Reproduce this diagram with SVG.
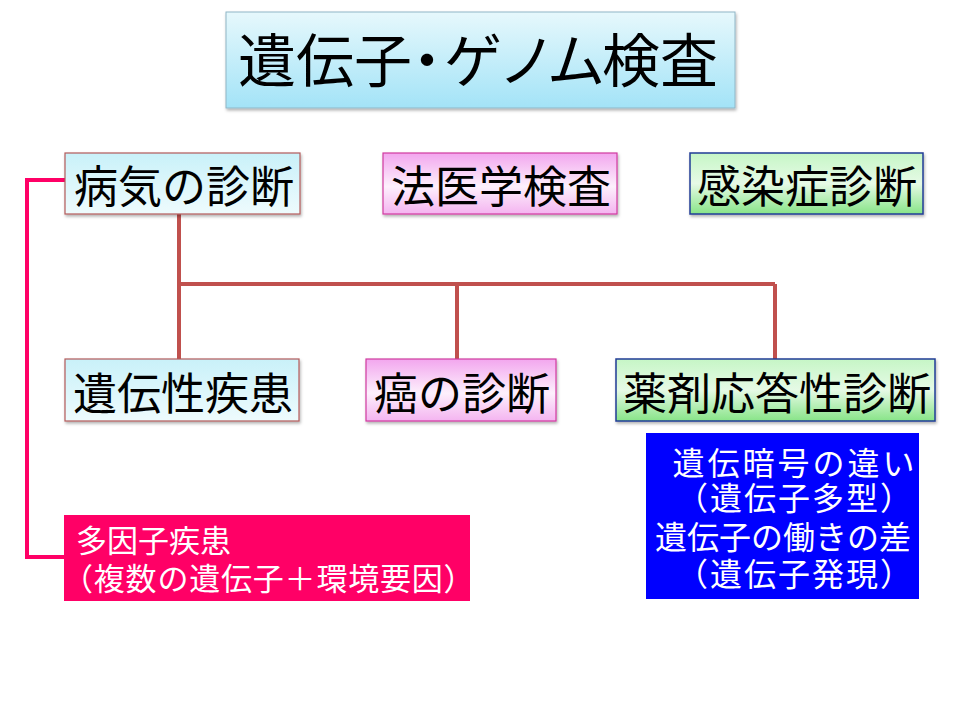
<svg xmlns="http://www.w3.org/2000/svg" width="960" height="720" viewBox="0 0 960 720">
<defs>
<linearGradient id="gTitle" x1="0" y1="0" x2="0" y2="1"><stop offset="0" stop-color="#e6f8fc"/><stop offset="1" stop-color="#a3e3f7"/></linearGradient>
<linearGradient id="gCyan" x1="0" y1="0" x2="0" y2="1"><stop offset="0" stop-color="#c9f1f9"/><stop offset="1" stop-color="#eefbfd"/></linearGradient>
<linearGradient id="gPink" x1="0" y1="0" x2="0" y2="1"><stop offset="0" stop-color="#f2a6ee"/><stop offset="0.55" stop-color="#fdf0fc"/><stop offset="1" stop-color="#f4b4f0"/></linearGradient>
<linearGradient id="gGreen" x1="0" y1="0" x2="0" y2="1"><stop offset="0" stop-color="#c6f6c6"/><stop offset="0.5" stop-color="#e6fae6"/><stop offset="1" stop-color="#88e488"/></linearGradient>
<filter id="sh" x="-10%" y="-10%" width="120%" height="130%"><feDropShadow dx="1" dy="2" stdDeviation="1.5" flood-color="#000" flood-opacity="0.3"/></filter>
</defs>
<style>
text{font-family:"Noto Sans CJK JP","Noto Sans",sans-serif;}
.lbl{font-size:44px;fill:#000;text-anchor:middle;}
.cyan{fill:url(#gCyan);stroke:#b35a5a;stroke-width:1.2;}
.pink{fill:url(#gPink);stroke:#d03aa0;stroke-width:1.2;}
.green{fill:url(#gGreen);stroke:#1f3c96;stroke-width:1.5;}
.conn{fill:none;stroke:#c0504d;stroke-width:4;}
.conn2{fill:none;stroke:#ff0066;stroke-width:4;}
.wt{fill:#fff;font-size:31px;}
.bt{fill:#fff;font-size:32px;text-anchor:middle;}
</style>
<g id="connectors">
<path class="conn" d="M179 214V359M177 284H775M457 284V359M775 284V359"/>
<path class="conn2" d="M65 180H27V557H64"/>
</g>
<g id="title">
<rect x="226" y="12" width="509" height="96" fill="url(#gTitle)" stroke="#8fb6c6" stroke-width="1" filter="url(#sh)"/>
<text x="238 296 354 398 444 498 547 602 660" y="82" font-size="58">遺伝子・ゲノム検査</text>
</g>
<g id="n-byoki">
<rect class="cyan" x="65" y="153" width="235" height="61" filter="url(#sh)"/>
<text class="lbl" x="184" y="203">病気の診断</text>
</g>
<g id="n-hoigaku">
<rect class="pink" x="383" y="153" width="234" height="61" filter="url(#sh)"/>
<text class="lbl" x="501" y="203">法医学検査</text>
</g>
<g id="n-kansen">
<rect class="green" x="690" y="153" width="233" height="61" filter="url(#sh)"/>
<text class="lbl" x="807" y="203">感染症診断</text>
</g>
<g id="n-iden">
<rect class="cyan" x="65" y="359" width="234" height="62" filter="url(#sh)"/>
<text class="lbl" x="183" y="410">遺伝性疾患</text>
</g>
<g id="n-gan">
<rect class="pink" x="366" y="359" width="190" height="62" filter="url(#sh)"/>
<text class="lbl" x="462" y="410">癌の診断</text>
</g>
<g id="n-yakuzai">
<rect class="green" x="616" y="359" width="319" height="62" filter="url(#sh)"/>
<text class="lbl" x="777" y="410">薬剤応答性診断</text>
</g>
<g id="n-blue">
<rect x="646" y="433" width="273" height="166" fill="#0000ff"/>
<text class="bt" x="795" y="475" letter-spacing="3">遺伝暗号の違い</text>
<text class="bt" x="795" y="510" letter-spacing="2">（遺伝子多型）</text>
<text class="bt" x="783" y="549">遺伝子の働きの差</text>
<text class="bt" x="795" y="586" letter-spacing="2">（遺伝子発現）</text>
</g>
<g id="n-tainshi">
<rect x="64" y="515" width="406" height="86" fill="#ff0066"/>
<text class="wt" x="76" y="552">多因子疾患</text>
<text class="wt" x="62" y="590" letter-spacing="0.8">（複数の遺伝子＋環境要因）</text>
</g>
</svg>
